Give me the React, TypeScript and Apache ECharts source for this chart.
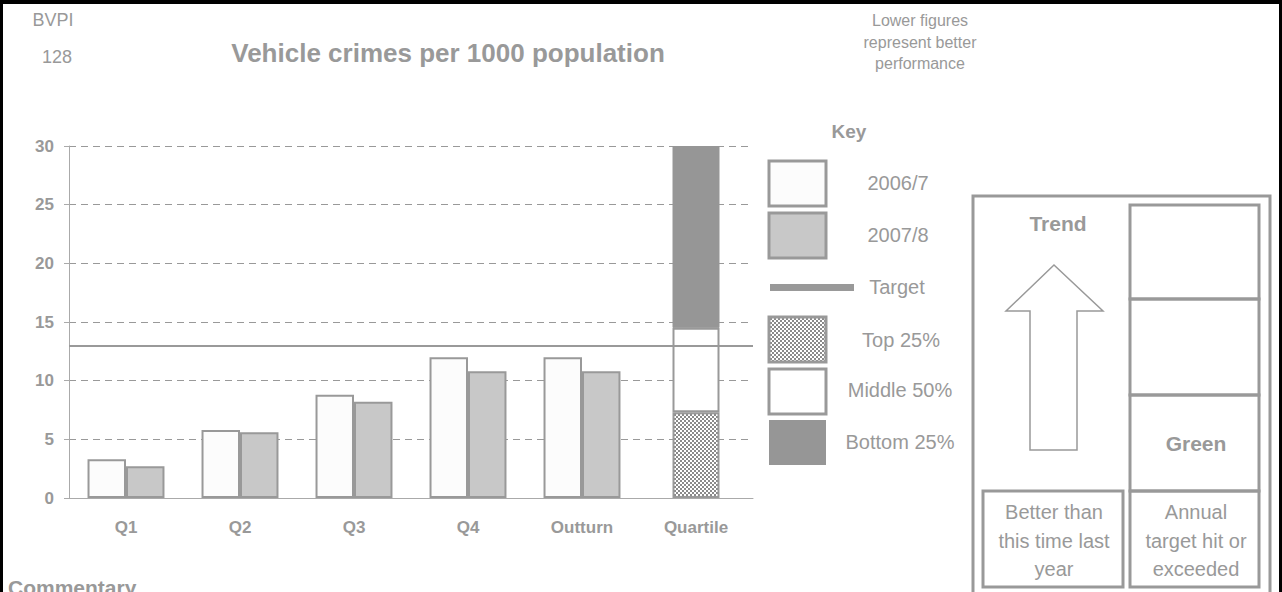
import React, { useEffect, useRef } from "react";
import * as echarts from "echarts";

const categories = ["Q1", "Q2", "Q3", "Q4", "Outturn", "Quartile"];
const values2006 = [3.3, 5.8, 8.8, 12.0, 12.0, null];
const values2007 = [2.7, 5.6, 8.2, 10.8, 10.8, null];
const targetValue = 13;
const quartileTop25 = [null, null, null, null, null, 7.3];
const quartileMiddle50 = [null, null, null, null, null, 7.2];
const quartileBottom25 = [null, null, null, null, null, 15.5];
const yTicks = { min: 0, max: 30, interval: 5 };
const legendLabels = ["2006/7", "2007/8", "Target", "Top 25%", "Middle 50%", "Bottom 25%"];

const GREY = "#999999";
const FONT = "'Liberation Sans', Arial, Helvetica, sans-serif";

function makeChecker(): string {
  const c = document.createElement("canvas");
  c.width = 4;
  c.height = 4;
  const ctx = c.getContext("2d")!;
  ctx.fillStyle = "#ffffff";
  ctx.fillRect(0, 0, 4, 4);
  ctx.fillStyle = "#8a8a8a";
  ctx.fillRect(0, 0, 2, 2);
  ctx.fillRect(2, 2, 2, 2);
  return c.toDataURL();
}

export default function App() {
  const ref = useRef<HTMLDivElement>(null);
  useEffect(() => {
    if (!ref.current) return;
    const chart = echarts.init(ref.current, null, { renderer: "svg" });
    const checker = { image: makeChecker(), repeat: "repeat", imageWidth: 4, imageHeight: 4 } as any;

    const txt = (x: number, y: number, text: string, size: number, bold = false, align = "center") => ({
      type: "text",
      x,
      y,
      style: {
        text,
        fill: GREY,
        font: `${bold ? "bold " : ""}${size}px ${FONT}`,
        textAlign: align,
        textVerticalAlign: "middle",
      },
    });

    const swatch = (y: number, fill: any, stroke: string | null) => ({
      type: "rect",
      shape: { x: 769, y, width: 57, height: 45 },
      style: { fill, stroke: stroke || undefined, lineWidth: stroke ? 3 : 0 },
    });

    const box = (x: number, y: number, w: number, h: number) => ({
      type: "rect",
      shape: { x, y, width: w, height: h },
      style: { fill: "none", stroke: GREY, lineWidth: 3 },
    });

    const barBase = {
      type: "bar",
      barGap: "0%",
      barCategoryGap: "32.5%",
    };

    chart.setOption({
      animation: false,
      backgroundColor: "#ffffff",
      grid: { left: 69, right: 529, top: 146, bottom: 94, containLabel: false },
      xAxis: [
        {
          type: "category",
          data: categories,
          axisLine: { lineStyle: { color: "#aaaaaa", width: 1 } },
          axisTick: { length: 5, lineStyle: { color: "#aaaaaa" } },
          axisLabel: { color: GREY, fontWeight: "bold", fontSize: 17, fontFamily: FONT, margin: 21 },
        },
        { type: "category", data: categories, show: false, gridIndex: 0 },
      ],
      yAxis: {
        type: "value",
        min: yTicks.min,
        max: yTicks.max,
        interval: yTicks.interval,
        axisLine: { show: true, lineStyle: { color: "#aaaaaa", width: 1 } },
        axisTick: { show: true, length: 5, lineStyle: { color: "#aaaaaa" } },
        axisLabel: { color: GREY, fontWeight: "bold", fontSize: 17, fontFamily: FONT, margin: 15 },
        splitLine: { lineStyle: { color: GREY, type: [7, 5], width: 1 } },
      },
      series: [
        {
          ...barBase,
          name: legendLabels[0],
          data: values2006,
          itemStyle: { color: "#fcfcfc", borderColor: GREY, borderWidth: 2 },
          markLine: {
            silent: true,
            symbol: "none",
            label: { show: false },
            lineStyle: { color: GREY, width: 2, type: "solid" },
            data: [{ yAxis: targetValue }],
          },
        },
        {
          ...barBase,
          name: legendLabels[1],
          data: values2007,
          itemStyle: { color: "#c8c8c8", borderColor: GREY, borderWidth: 2 },
        },
        {
          type: "bar",
          name: legendLabels[3],
          xAxisIndex: 1,
          stack: "quartile",
          barWidth: 47,
          data: quartileTop25,
          itemStyle: { color: checker, borderColor: GREY, borderWidth: 2 },
        },
        {
          type: "bar",
          name: legendLabels[4],
          xAxisIndex: 1,
          stack: "quartile",
          barWidth: 47,
          data: quartileMiddle50,
          itemStyle: { color: "#ffffff", borderColor: GREY, borderWidth: 2 },
        },
        {
          type: "bar",
          name: legendLabels[5],
          xAxisIndex: 1,
          stack: "quartile",
          barWidth: 47,
          data: quartileBottom25,
          itemStyle: { color: "#969696", borderColor: "#969696", borderWidth: 1 },
        },
      ],
      graphic: [
        // page border
        { type: "rect", shape: { x: 0, y: 0, width: 1282, height: 4 }, style: { fill: "#000" } },
        { type: "rect", shape: { x: 0, y: 0, width: 3, height: 592 }, style: { fill: "#000" } },
        { type: "rect", shape: { x: 1279, y: 0, width: 3, height: 592 }, style: { fill: "#000" } },
        // header texts
        txt(53, 20, "BVPI", 18),
        txt(57, 57, "128", 18),
        txt(448, 53, "Vehicle crimes per 1000 population", 26, true),
        txt(920, 20, "Lower figures", 16),
        txt(920, 42, "represent better", 16),
        txt(920, 63, "performance", 16),
        txt(8, 587, "Commentary", 21, true, "left"),
        // key
        txt(849, 131, "Key", 19, true),
        swatch(161, "#fcfcfc", GREY),
        swatch(213, "#c8c8c8", GREY),
        { type: "rect", shape: { x: 770, y: 284, width: 84, height: 7 }, style: { fill: GREY } },
        swatch(317, checker, GREY),
        swatch(369, "#ffffff", GREY),
        swatch(420, "#969696", null),
        txt(898, 183, legendLabels[0], 20),
        txt(898, 235, legendLabels[1], 20),
        txt(897, 287, legendLabels[2], 20),
        txt(901, 340, legendLabels[3], 20),
        txt(900, 390, legendLabels[4], 20),
        txt(900, 442, legendLabels[5], 20),
        // right panel
        box(973, 196, 297, 520),
        box(1130, 205, 129, 94),
        box(1130, 299, 129, 96),
        box(1130, 395, 129, 96),
        box(1130, 491, 129, 96),
        box(983, 491, 140, 96),
        txt(1058, 223, "Trend", 21, true),
        {
          type: "polygon",
          shape: {
            points: [
              [1054, 265],
              [1103, 311],
              [1077, 311],
              [1077, 450],
              [1030, 450],
              [1030, 311],
              [1006, 311],
            ],
          },
          style: { fill: "#ffffff", stroke: GREY, lineWidth: 1.5 },
        },
        txt(1196, 443, "Green", 21, true),
        txt(1054, 512, "Better than", 20),
        txt(1054, 541, "this time last", 20),
        txt(1054, 569, "year", 20),
        txt(1196, 512, "Annual", 20),
        txt(1196, 541, "target hit or", 20),
        txt(1196, 569, "exceeded", 20),
      ],
    });
    return () => chart.dispose();
  }, []);

  return (
    <div
      ref={ref}
      style={{ position: "absolute", left: 0, top: 0, width: 1282, height: 592, background: "#fff" }}
    />
  );
}
